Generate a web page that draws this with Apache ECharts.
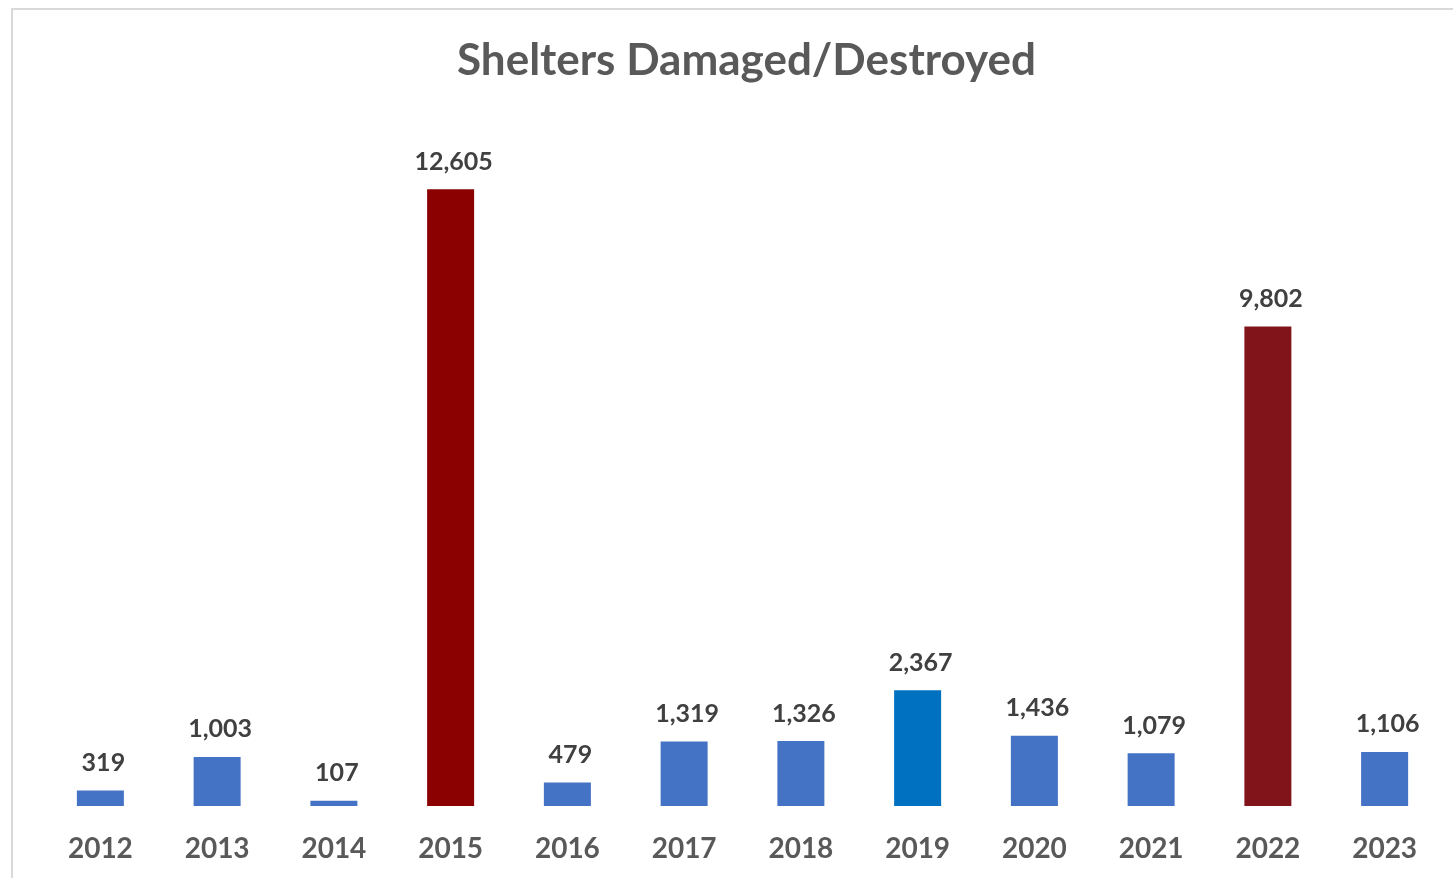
<!DOCTYPE html>
<html><head><meta charset="utf-8">
<script src="https://cdn.jsdelivr.net/npm/echarts@6/dist/echarts.min.js"></script>
<style>html,body{margin:0;padding:0;background:#fff}#c{width:1453px;height:878px}</style>
</head><body><div id="c"></div>
<script>
const years = ['2012','2013','2014','2015','2016','2017','2018','2019','2020','2021','2022','2023'];
const shelters = [319, 1003, 107, 12605, 479, 1319, 1326, 2367, 1436, 1079, 9802, 1106];
const barColors = ['#4472C4','#4472C4','#4472C4','#8B0000','#4472C4','#4472C4','#4472C4','#0070C0','#4472C4','#4472C4','#80141A','#4472C4'];
const chart = echarts.init(document.getElementById('c'));
chart.setOption({
  animation: false,
  graphic: [{type:'rect', shape:{x:12,y:9,width:1600,height:1000}, style:{fill:'none', stroke:'#d9d9d9', lineWidth:2}, z:-1}],
  title: {text:'Shelters Damaged/Destroyed', left:452, top:34,
    textStyle:{fontFamily:'Lato', fontWeight:'bold', fontSize:44, color:'#595959'}},
  grid: {left:42, right:10, top:121, bottom:72, containLabel:false},
  xAxis: {type:'category', data: years, axisLine:{show:false}, axisTick:{show:false},
    axisLabel:{fontFamily:'Lato', fontWeight:'bold', fontSize:28, color:'#595959', margin:29}},
  yAxis: {type:'value', min:0, max:14000, show:false, splitLine:{show:false}},
  series: [{type:'bar', barWidth:47,
    data: shelters.map((v,i)=>({value:v, itemStyle:{color:barColors[i]}})),
    label:{show:true, position:'top', distance:15, offset:[3,0], fontFamily:'Lato', fontWeight:'bold', fontSize:25, color:'#404040',
      formatter: p => p.value.toLocaleString('en-US')}}]
});
</script></body></html>
